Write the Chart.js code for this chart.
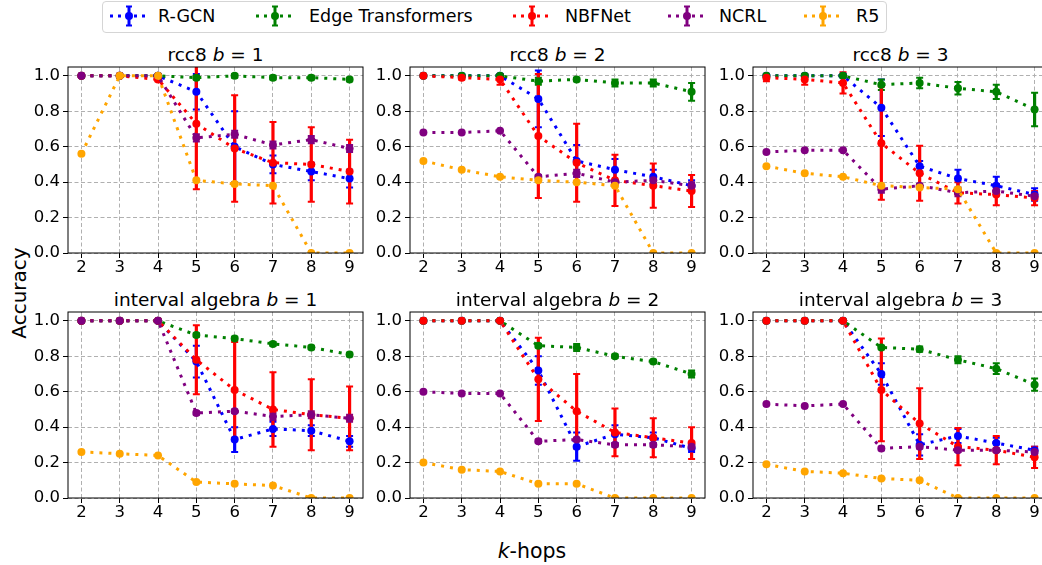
<!DOCTYPE html>
<html>
<head>
<meta charset="utf-8">
<script src="https://cdn.jsdelivr.net/npm/chart.js@4.4.1/dist/chart.umd.min.js"></script>
<style>
  html, body { margin: 0; padding: 0; background: #fff; }
  body { width: 1042px; height: 565px; overflow: hidden; position: relative; font-family: "DejaVu Sans", sans-serif; color: #000; }
  .panel { position: absolute; }
  .title { position: absolute; width: 295px; height: 20px; line-height: 20px; font-size: 18.5px; text-align: center; white-space: nowrap; }
  #legend { position: absolute; left: 102px; top: 1px; width: 783px; height: 30px; border: 1px solid #d5d5d5; border-radius: 4px; background: #fff; }
  .entry-mark { position: absolute; top: 2px; }
  .entry-text { position: absolute; top: 3px; font-size: 17.5px; line-height: 22px; white-space: nowrap; }
  #ylabel { position: absolute; left: 19px; top: 293px; font-size: 20px; transform: translate(-50%, -50%) rotate(-90deg); white-space: nowrap; }
  #xlabel { position: absolute; left: 532px; top: 551px; font-size: 20.5px; transform: translate(-50%, -50%); white-space: nowrap; }
</style>
</head>
<body>
<div id="legend"></div>
<div id="ylabel">Accuracy</div>
<div id="xlabel"><i>k</i>-hops</div>

<script>
// x axis: number of hops, y axis ticks
const kHops = [2, 3, 4, 5, 6, 7, 8, 9];
const yTicks = [0, 0.2, 0.4, 0.6, 0.8, 1.0];

const methods = ['R-GCN', 'Edge Transformers', 'NBFNet', 'NCRL', 'R5'];
const colors = ['#0000ff', '#008000', '#ff0000', '#800080', '#ffa500'];

// mean accuracy per method (rows follow `methods`), and std error bars
const rcc8B1 = [
  [1.00, 1.00, 1.00, 0.91, 0.60, 0.50, 0.46, 0.42],
  [1.00, 1.00, 1.00, 0.99, 1.00, 0.99, 0.99, 0.98],
  [1.00, 1.00, 0.98, 0.73, 0.59, 0.51, 0.50, 0.46],
  [1.00, 1.00, 1.00, 0.65, 0.67, 0.61, 0.64, 0.59],
  [0.56, 1.00, 1.00, 0.41, 0.39, 0.38, 0.00, 0.00]
];
const rcc8B1Err = [
  [0, 0, 0.01, 0.10, 0.20, 0.05, 0.05, 0.05],
  [0, 0, 0, 0.01, 0.01, 0.01, 0.01, 0.01],
  [0, 0, 0.01, 0.37, 0.30, 0.23, 0.21, 0.18],
  [0, 0, 0, 0.02, 0.02, 0.02, 0.02, 0.02],
  [0, 0, 0, 0, 0, 0, 0, 0]
];

const rcc8B2 = [
  [1.00, 1.00, 1.00, 0.87, 0.52, 0.47, 0.43, 0.38],
  [1.00, 1.00, 1.00, 0.97, 0.98, 0.96, 0.96, 0.91],
  [1.00, 0.99, 0.98, 0.66, 0.51, 0.41, 0.38, 0.35],
  [0.68, 0.68, 0.69, 0.43, 0.45, 0.40, 0.41, 0.38],
  [0.52, 0.47, 0.43, 0.41, 0.40, 0.38, 0.00, 0.00]
];
const rcc8B2Err = [
  [0, 0, 0, 0.16, 0.09, 0.06, 0.04, 0.03],
  [0, 0.01, 0.01, 0.02, 0.01, 0.02, 0.02, 0.05],
  [0, 0.01, 0.03, 0.35, 0.22, 0.145, 0.125, 0.09],
  [0, 0, 0, 0.01, 0.02, 0.01, 0.02, 0.02],
  [0, 0, 0, 0, 0, 0, 0, 0]
];

const rcc8B3 = [
  [1.00, 1.00, 1.00, 0.82, 0.49, 0.42, 0.38, 0.33],
  [1.00, 1.00, 1.00, 0.95, 0.96, 0.93, 0.91, 0.81],
  [0.99, 0.98, 0.96, 0.62, 0.45, 0.34, 0.33, 0.31],
  [0.57, 0.58, 0.58, 0.36, 0.38, 0.34, 0.35, 0.32],
  [0.49, 0.45, 0.43, 0.38, 0.37, 0.36, 0.00, 0.00]
];
const rcc8B3Err = [
  [0, 0, 0, 0.16, 0.03, 0.05, 0.05, 0.035],
  [0.01, 0.01, 0.01, 0.03, 0.03, 0.035, 0.04, 0.095],
  [0.02, 0.03, 0.06, 0.32, 0.155, 0.06, 0.06, 0.04],
  [0, 0, 0, 0.02, 0.01, 0.02, 0.02, 0.02],
  [0, 0, 0, 0, 0, 0, 0, 0]
];

const intervalB1 = [
  [1.00, 1.00, 1.00, 0.77, 0.33, 0.39, 0.38, 0.32],
  [1.00, 1.00, 1.00, 0.92, 0.90, 0.87, 0.85, 0.81],
  [1.00, 1.00, 1.00, 0.78, 0.61, 0.50, 0.47, 0.45],
  [1.00, 1.00, 1.00, 0.48, 0.49, 0.46, 0.47, 0.45],
  [0.26, 0.25, 0.24, 0.09, 0.08, 0.07, 0.00, 0.00]
];
const intervalB1Err = [
  [0, 0, 0, 0.09, 0.07, 0.04, 0.03, 0.03],
  [0, 0, 0, 0.01, 0.01, 0.01, 0.01, 0.01],
  [0, 0, 0, 0.195, 0.27, 0.21, 0.20, 0.18],
  [0, 0, 0, 0.01, 0.01, 0.02, 0.02, 0.02],
  [0, 0, 0, 0, 0, 0, 0, 0]
];

const intervalB2 = [
  [1.00, 1.00, 1.00, 0.72, 0.29, 0.36, 0.34, 0.28],
  [1.00, 1.00, 1.00, 0.86, 0.85, 0.80, 0.77, 0.70],
  [1.00, 1.00, 1.00, 0.67, 0.49, 0.37, 0.34, 0.31],
  [0.60, 0.59, 0.59, 0.32, 0.33, 0.30, 0.30, 0.29],
  [0.20, 0.16, 0.15, 0.08, 0.08, 0.00, 0.00, 0.00]
];
const intervalB2Err = [
  [0, 0, 0, 0.08, 0.08, 0.05, 0.03, 0.02],
  [0, 0, 0, 0.01, 0.02, 0.01, 0.01, 0.02],
  [0, 0, 0, 0.235, 0.21, 0.135, 0.11, 0.09],
  [0, 0, 0, 0.01, 0.01, 0.01, 0.01, 0.01],
  [0, 0, 0, 0, 0, 0, 0, 0]
];

const intervalB3 = [
  [1.00, 1.00, 1.00, 0.70, 0.30, 0.35, 0.31, 0.27],
  [1.00, 1.00, 1.00, 0.85, 0.84, 0.78, 0.73, 0.64],
  [1.00, 1.00, 1.00, 0.61, 0.42, 0.29, 0.27, 0.23],
  [0.53, 0.52, 0.53, 0.28, 0.29, 0.27, 0.27, 0.26],
  [0.19, 0.15, 0.14, 0.11, 0.10, 0.00, 0.00, 0.00]
];
const intervalB3Err = [
  [0, 0, 0, 0.06, 0.06, 0.04, 0.03, 0.02],
  [0, 0, 0, 0.01, 0.015, 0.02, 0.03, 0.035],
  [0, 0, 0, 0.29, 0.20, 0.105, 0.08, 0.06],
  [0, 0, 0, 0.01, 0.01, 0.01, 0.01, 0.01],
  [0, 0, 0, 0, 0, 0, 0, 0]
];

const panels = [
  { name: 'rcc8', b: 1, mean: rcc8B1, err: rcc8B1Err },
  { name: 'rcc8', b: 2, mean: rcc8B2, err: rcc8B2Err },
  { name: 'rcc8', b: 3, mean: rcc8B3, err: rcc8B3Err },
  { name: 'interval algebra', b: 1, mean: intervalB1, err: intervalB1Err },
  { name: 'interval algebra', b: 2, mean: intervalB2, err: intervalB2Err },
  { name: 'interval algebra', b: 3, mean: intervalB3, err: intervalB3Err }
];

// plot-area placement on the page
const areaLeft = [68, 410, 753];
const areaTop = [67, 312];
const areaW = 295, areaH = 186;
const yAxisW = 56, xAxisH = 28, padTop = 10, padRight = 8;

Chart.defaults.font.family = '"DejaVu Sans", sans-serif';
Chart.defaults.font.size = 16.5;
Chart.defaults.color = '#000';

// error bars drawn before the lines
const errorBars = {
  id: 'errorBars',
  beforeDatasetsDraw(chart) {
    const { ctx, chartArea, scales: { x, y } } = chart;
    ctx.save();
    ctx.beginPath();
    ctx.rect(chartArea.left, chartArea.top, chartArea.right - chartArea.left, chartArea.bottom - chartArea.top);
    ctx.clip();
    chart.data.datasets.forEach(ds => {
      ctx.strokeStyle = ds.borderColor;
      ds.data.forEach((p, i) => {
        const e = ds.errors[i];
        if (!e) return;
        const px = x.getPixelForValue(p.x);
        const top = y.getPixelForValue(p.y + e);
        const bot = y.getPixelForValue(p.y - e);
        ctx.lineWidth = 3.2;
        ctx.beginPath();
        ctx.moveTo(px, top);
        ctx.lineTo(px, bot);
        ctx.stroke();
        ctx.lineWidth = 2;
        ctx.beginPath();
        ctx.moveTo(px - 3.5, top); ctx.lineTo(px + 3.5, top);
        ctx.moveTo(px - 3.5, bot); ctx.lineTo(px + 3.5, bot);
        ctx.stroke();
      });
    });
    ctx.restore();
  }
};

// box around the plot area
const frame = {
  id: 'frame',
  afterDraw(chart) {
    const { ctx, chartArea: a } = chart;
    ctx.save();
    ctx.strokeStyle = '#000';
    ctx.lineWidth = 1;
    ctx.strokeRect(a.left, a.top, a.right - a.left, a.bottom - a.top);
    ctx.restore();
  }
};

panels.forEach((pn, idx) => {
  const col = idx % 3, row = Math.floor(idx / 3);
  const left = areaLeft[col], top = areaTop[row];

  const title = document.createElement('div');
  title.className = 'title';
  title.style.left = left + 'px';
  title.style.top = (top - 22.5) + 'px';
  title.innerHTML = pn.name + ' <i>b</i> = ' + pn.b;
  document.body.appendChild(title);

  const box = document.createElement('div');
  box.className = 'panel';
  box.style.left = (left - yAxisW) + 'px';
  box.style.top = (top - padTop) + 'px';
  box.style.width = (yAxisW + areaW + padRight) + 'px';
  box.style.height = (padTop + areaH + xAxisH) + 'px';
  const canvas = document.createElement('canvas');
  box.appendChild(canvas);
  document.body.appendChild(box);

  const datasets = methods.map((m, i) => ({
    label: m,
    data: kHops.map((k, j) => ({ x: k, y: pn.mean[i][j] })),
    errors: pn.err[i],
    borderColor: colors[i],
    backgroundColor: colors[i],
    pointBackgroundColor: colors[i],
    borderWidth: 3,
    borderDash: [3, 6],
    borderCapStyle: 'butt',
    pointRadius: 4,
    pointBorderWidth: 0,
    tension: 0,
    order: methods.length - 1 - i
  }));

  new Chart(canvas, {
    type: 'line',
    data: { datasets },
    plugins: [errorBars, frame],
    options: {
      responsive: true,
      maintainAspectRatio: false,
      animation: false,
      layout: { padding: { top: padTop, right: padRight, left: 0, bottom: 0 } },
      plugins: { legend: { display: false }, tooltip: { enabled: false } },
      scales: {
        x: {
          type: 'linear',
          min: 1.65,
          max: 9.35,
          afterBuildTicks: s => { s.ticks = kHops.map(v => ({ value: v })); },
          afterFit: s => { s.height = xAxisH; s.paddingLeft = 0; s.paddingRight = 0; },
          ticks: { padding: 0, callback: v => String(v), maxRotation: 0 },
          grid: { color: '#b0b0b0', lineWidth: 1, tickColor: '#000', tickLength: 5, tickBorderDash: [] },
          border: { display: false, dash: [4, 2.5] }
        },
        y: {
          min: 0,
          max: 1.05,
          afterBuildTicks: s => { s.ticks = yTicks.map(v => ({ value: v })); },
          afterFit: s => { s.width = yAxisW; s.paddingTop = 0; s.paddingBottom = 0; },
          ticks: { padding: 3, callback: v => v.toFixed(1) },
          grid: { color: '#b0b0b0', lineWidth: 1, tickColor: '#000', tickLength: 5, tickBorderDash: [] },
          border: { display: false, dash: [4, 2.5] }
        }
      }
    }
  });
});

// legend
const legend = document.getElementById('legend');
const markCenters = [128, 274, 531, 686, 822];
const textLefts = [157, 308, 564, 718, 855];
methods.forEach((m, i) => {
  const c = colors[i];
  const mark = document.createElement('div');
  mark.className = 'entry-mark';
  mark.style.left = (markCenters[i] - 102 - 19) + 'px';
  mark.innerHTML =
    '<svg width="38" height="24" viewBox="0 0 38 24">' +
    '<line x1="0" y1="12" x2="38" y2="12" stroke="' + c + '" stroke-width="3" stroke-dasharray="3 5"/>' +
    '<line x1="19" y1="2" x2="19" y2="22" stroke="' + c + '" stroke-width="3"/>' +
    '<line x1="16" y1="2.5" x2="22" y2="2.5" stroke="' + c + '" stroke-width="2"/>' +
    '<line x1="16" y1="21.5" x2="22" y2="21.5" stroke="' + c + '" stroke-width="2"/>' +
    '<circle cx="19" cy="12" r="4" fill="' + c + '"/></svg>';
  legend.appendChild(mark);
  const txt = document.createElement('div');
  txt.className = 'entry-text';
  txt.style.left = (textLefts[i] - 102) + 'px';
  txt.textContent = m;
  legend.appendChild(txt);
});
</script>
</body>
</html>
